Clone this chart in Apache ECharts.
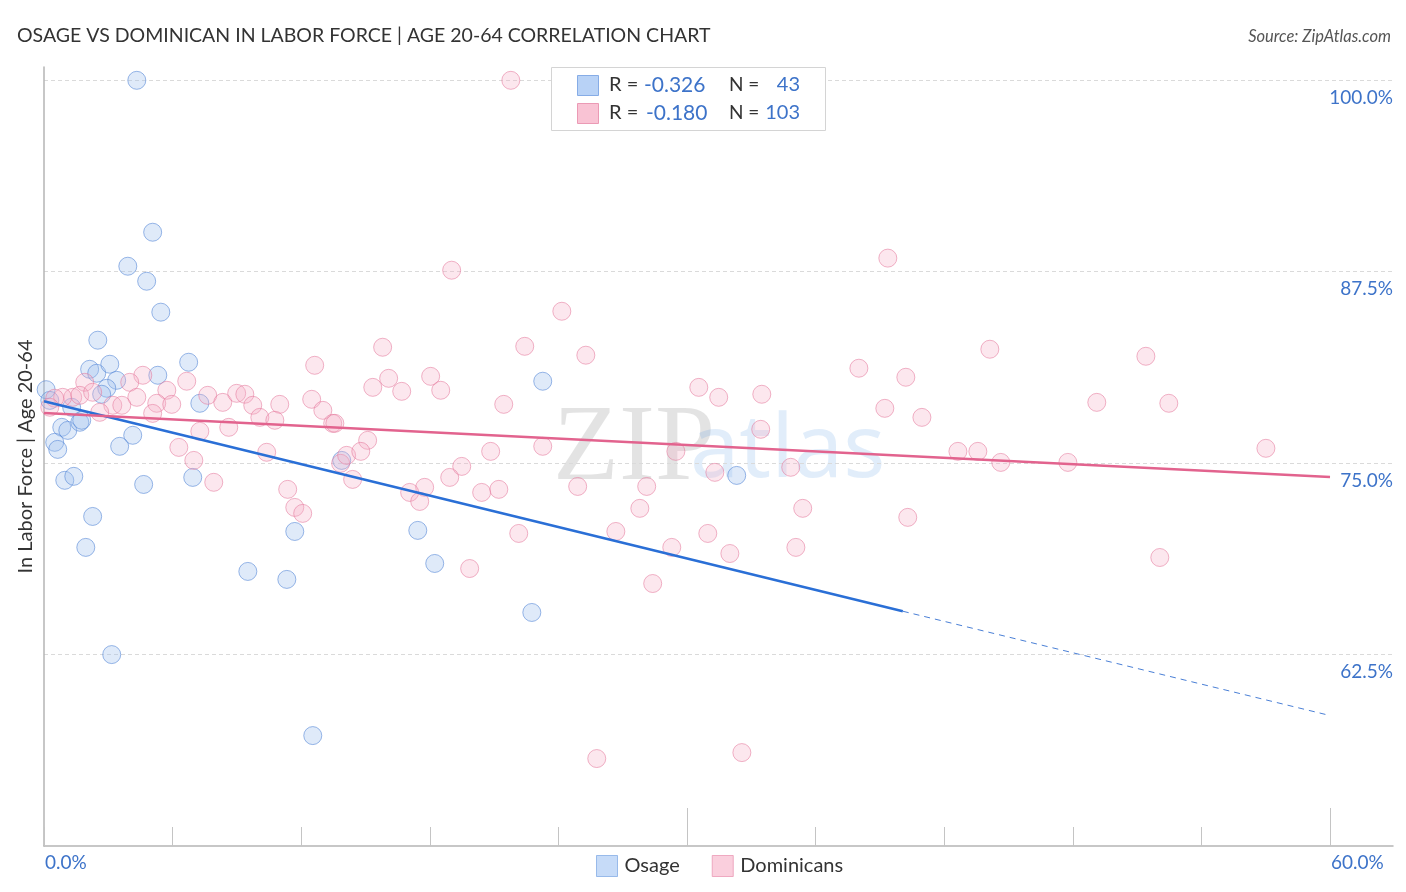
<!DOCTYPE html>
<html><head><meta charset="utf-8">
<script src="https://cdn.jsdelivr.net/npm/echarts@6/dist/echarts.min.js"></script>
<style>html,body{margin:0;padding:0;background:#fff}#c{width:1406px;height:892px}</style>
</head><body><div id="c"></div>
<script>
// ---- data (x: percent Osage/Dominican, y: in labor force %) ----
const osage = [
  [4.33,100.0],[5.07,90.08],[3.91,87.86],[4.79,86.88],[5.45,84.86],[2.51,83.03],
  [2.13,81.13],[2.46,80.87],[3.07,81.46],[3.39,80.41],[5.31,80.74],[6.75,81.59],
  [2.93,79.89],[2.69,79.50],[0.10,79.80],[1.29,78.65],[7.27,78.91],[0.83,77.34],
  [1.11,77.14],[1.67,77.67],[0.50,76.36],[0.64,75.90],[4.14,76.82],[3.53,76.10],
  [0.97,73.88],[1.39,74.14],[4.65,73.61],[6.94,74.07],[2.27,71.52],[1.95,69.50],
  [11.70,70.54],[9.51,67.93],[11.33,67.41],[3.16,62.50],[12.54,57.21],[13.89,75.18],
  [23.27,80.35],[17.44,70.61],[18.23,68.45],[22.76,65.25],[32.32,74.20],[0.27,79.10],
  [1.76,77.80]
];
const dominicans = [
  [12.63,81.39],[4.61,80.74],[4.00,80.28],[6.66,80.35],[1.90,80.28],[5.73,79.76],
  [4.33,79.30],[3.21,78.78],[3.63,78.78],[5.26,78.91],[5.96,78.84],[5.07,78.25],
  [7.64,79.43],[8.34,78.97],[8.99,79.56],[9.37,79.50],[9.74,78.78],[11.00,78.84],
  [10.07,77.99],[10.77,77.80],[12.49,79.17],[13.01,78.45],[13.47,77.60],[2.60,78.32],
  [1.34,79.30],[0.87,79.30],[0.50,79.24],[1.67,79.43],[2.27,79.63],[0.27,78.65],
  [7.27,77.08],[8.62,77.34],[6.29,76.03],[6.99,75.18],[10.39,75.71],[7.92,73.75],
  [11.37,73.29],[11.70,72.11],[12.07,71.72],[13.84,74.99],[14.12,75.51],[14.40,73.94],
  [21.78,100.0],[19.02,87.60],[24.16,84.92],[15.80,82.57],[22.43,82.63],[25.28,82.05],
  [16.08,80.54],[15.34,79.95],[16.69,79.69],[18.04,80.67],[18.51,79.76],[21.45,78.84],
  [30.55,79.95],[31.48,79.30],[13.57,77.60],[15.10,76.49],[14.78,75.77],[20.84,75.77],
  [23.27,76.10],[29.48,75.77],[19.49,74.79],[18.93,74.07],[17.76,73.42],[17.06,73.09],
  [17.53,72.50],[20.42,73.09],[21.22,73.29],[24.90,73.48],[28.12,73.48],[27.80,72.05],
  [31.30,74.40],[22.15,70.41],[26.68,70.54],[29.29,69.50],[30.97,70.41],[32.00,69.10],
  [19.86,68.12],[28.40,67.14],[25.79,55.71],[39.37,88.39],[44.13,82.44],[38.02,81.20],
  [40.21,80.61],[33.49,79.50],[39.23,78.58],[40.96,77.99],[33.44,77.21],[49.12,78.97],
  [42.64,75.77],[43.57,75.77],[44.64,75.05],[47.77,75.05],[34.84,74.73],[35.40,72.05],
  [40.30,71.46],[35.08,69.50],[51.41,81.98],[52.48,78.91],[57.01,75.97],[52.06,68.84],
  [32.56,56.10]
];
const osageTrend = [[0,79.04],[40.07,65.33]];
const osageTrendExt = [[40.07,65.33],[60,58.52]];
const dominicanTrend = [[0,78.27],[60,74.10]];
const xTickValues = [0,6,12,18,24,30,36,42,48,54,60];
const xMajorTickValues = [30,60];
const xLabelValues = [0,60];
const yLabelValues = [62.5,75,87.5,100];
const stats = [
  {name:'Osage', r:'-0.326', n:'43'},
  {name:'Dominicans', r:'-0.180', n:'103'}
];

const FONT = 'Lato';
const BLUE_TXT = '#3d73c9';
const chart = echarts.init(document.getElementById('c'));

const graphic = [];
// stats box
graphic.push({type:'rect', left:551, top:67, shape:{width:274, height:63},
  style:{fill:'#fff', stroke:'#d4d4d4', lineWidth:1}, z:10});
const swatchFill = ['#b8d2f6','#f9c3d4'];
const swatchStroke = ['#86ace6','#eb9ab5'];
stats.forEach((s,i)=>{
  const cy = 85 + i*28;
  graphic.push({type:'rect', left:577, top:cy-10, shape:{width:21,height:20},
    style:{fill:swatchFill[i], stroke:swatchStroke[i], lineWidth:1}, z:11});
  graphic.push({type:'text', left:609, top:cy-10, z:11,
    style:{text:'R = ', fill:'#333', font:'20px '+FONT}});
  graphic.push({type:'text', left:(i===0?644:646), top:cy-10, z:11,
    style:{text:s.r, fill:BLUE_TXT, font:'21px '+FONT}});
  graphic.push({type:'text', left:729, top:cy-10, z:11,
    style:{text:'N =', fill:'#333', font:'19px '+FONT}});
  graphic.push({type:'text', right:1406-800, top:cy-10, z:11,
    style:{text:s.n, fill:BLUE_TXT, font:'20px '+FONT, align:'right'}});
});
// watermark
graphic.push({type:'text', left:553, top:397, z:0, silent:true,
  style:{text:'ZIP', fill:'rgba(0,0,0,0.11)', font:'108px "Liberation Serif"'}});
graphic.push({type:'text', left:690, top:408, z:0, silent:true,
  style:{text:'atlas', fill:'rgba(70,140,225,0.16)', font:'88px "Noto Sans"'}});

chart.setOption({
  animation:false,
  backgroundColor:'#fff',
  textStyle:{fontFamily:FONT},
  title:[
    {text:'OSAGE VS DOMINICAN IN LABOR FORCE | AGE 20-64 CORRELATION CHART', left:12, top:21,
      textStyle:{fontSize:19.5, fontWeight:'normal', color:'#333', fontFamily:FONT}},
    {text:'Source: ZipAtlas.com', right:10, top:23,
      textStyle:{fontSize:16.5, fontWeight:'normal', fontStyle:'italic', color:'#555', fontFamily:FONT}}
  ],
  grid:{left:44, right:13, top:67, bottom:46, containLabel:false},
  legend:{left:591, top:850, itemWidth:21, itemHeight:21, itemGap:32,
    textStyle:{fontSize:20, color:'#333', padding:[0,0,0,2]},
    data:[
      {name:'Osage', icon:'rect', itemStyle:{color:swatchFill[0], borderColor:swatchStroke[0], borderWidth:1}},
      {name:'Dominicans', icon:'rect', itemStyle:{color:swatchFill[1], borderColor:swatchStroke[1], borderWidth:1}}
    ]},
  xAxis:[
    {type:'value', min:0, max:62.94, position:'bottom',
      axisLine:{show:true, lineStyle:{color:'#b5b5b5', width:1.5}},
      axisTick:{show:true, inside:true, length:19, customValues:xTickValues, lineStyle:{color:'#c4c4c4'}},
      axisLabel:{show:true, customValues:xLabelValues, formatter:v=>v.toFixed(1)+'%',
        color:BLUE_TXT, fontSize:19, align:'left', margin:7, padding:[0,0,0,1]},
      splitLine:{show:false}},
    {type:'value', min:0, max:62.94, position:'bottom',
      axisLine:{show:false},
      axisTick:{show:true, inside:true, length:38, customValues:xMajorTickValues, lineStyle:{color:'#c4c4c4'}},
      axisLabel:{show:false}, splitLine:{show:false}}
  ],
  yAxis:[
    {type:'value', min:50, max:100.87, interval:12.5, position:'left',
      name:'In Labor Force | Age 20-64', nameLocation:'middle', nameGap:8,
      nameTextStyle:{fontSize:20, color:'#333'},
      axisLine:{show:true, lineStyle:{color:'#b5b5b5', width:1.5}},
      axisTick:{show:false}, axisLabel:{show:false},
      splitLine:{show:true, showMinLine:false, showMaxLine:false, lineStyle:{type:[4,3], color:'#dadada'}}},
    {type:'value', min:50, max:100.87, position:'right',
      axisLine:{show:false}, axisTick:{show:false}, splitLine:{show:false},
      axisLabel:{show:true, inside:true, margin:0, customValues:yLabelValues,
        formatter:v=>v.toFixed(1)+'%', color:BLUE_TXT, fontSize:19,
        verticalAlign:'top', padding:[8,0,0,0]}}
  ],
  graphic:graphic,
  series:[
    {name:'Osage', type:'scatter', data:osage, symbolSize:18, z:3,
      itemStyle:{color:'rgba(160,192,238,0.42)', borderColor:'rgba(85,135,215,0.75)', borderWidth:1}},
    {name:'Dominicans', type:'scatter', data:dominicans, symbolSize:18, z:3,
      itemStyle:{color:'rgba(246,175,198,0.38)', borderColor:'rgba(228,120,156,0.70)', borderWidth:1}},
    {name:'osageTrend', type:'line', data:osageTrend, showSymbol:false, symbol:'none', z:5,
      lineStyle:{color:'#2a6fd6', width:2.5}},
    {name:'osageTrendExt', type:'line', data:osageTrendExt, showSymbol:false, symbol:'none', z:5,
      lineStyle:{color:'#4a7fd6', width:1, type:[6,5]}},
    {name:'dominicanTrend', type:'line', data:dominicanTrend, showSymbol:false, symbol:'none', z:5,
      lineStyle:{color:'#e2638e', width:2.5}}
  ]
});
</script></body></html>
